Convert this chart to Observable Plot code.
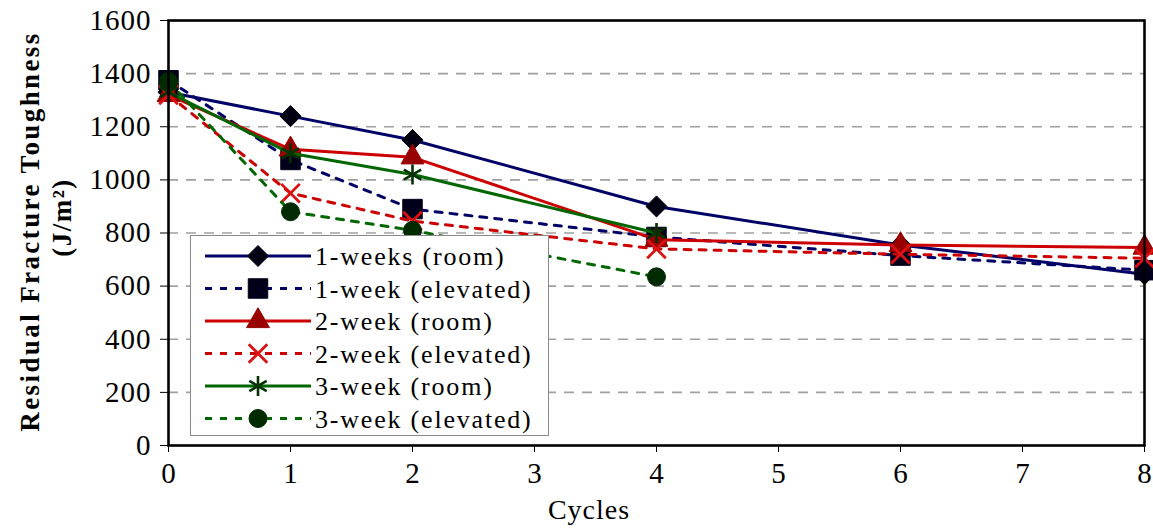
<!DOCTYPE html>
<html>
<head>
<meta charset="utf-8">
<script src="https://cdn.jsdelivr.net/npm/d3@7"></script>
<script src="https://cdn.jsdelivr.net/npm/@observablehq/plot@0.6"></script>
<style>
  html, body { margin: 0; padding: 0; background: #fff; }
  #wrap { position: relative; width: 1153px; height: 528px; font-family: "Liberation Serif", "Times New Roman", serif; color: #000; }
  #wrap svg { position: absolute; left: 0; top: 0; }
  .ylab { position: absolute; white-space: nowrap; text-align: center; transform-origin: center center; transform: rotate(-90deg); }
  .xlab { position: absolute; white-space: nowrap; }
  #legend { position: absolute; background: #fff; border: 1.5px solid #8a8a8a; box-sizing: border-box; }
</style>
</head>
<body>
<div id="wrap"></div>
<script>
// ---------- data ----------
const cycles = [0, 1, 2, 4, 6, 8];
const cycles3 = [0, 1, 2, 4];
const room1 = [1330, 1240, 1150, 900, 755, 645];
const elev1 = [1375, 1075, 890, 785, 715, 660];
const room2 = [1320, 1115, 1085, 775, 755, 745];
const elev2 = [1320, 950, 845, 740, 720, 705];
const room3 = [1330, 1100, 1020, 800];
const elev3 = [1370, 880, 810, 635];
const seriesNames = ["1-weeks (room)", "1-week (elevated)", "2-week (room)", "2-week (elevated)", "3-week (room)", "3-week (elevated)"];
const xTicks = [0, 1, 2, 3, 4, 5, 6, 7, 8];
const yTicks = [0, 200, 400, 600, 800, 1000, 1200, 1400, 1600];
const yGridTicks = [200, 400, 600, 800, 1000, 1200, 1400];
const xTitle = "Cycles";
const yTitle1 = "Residual Fracture Toughness";
const yTitle2 = "(J/m²)";

// ---------- styles ----------
const styles = [
  {x: cycles,  y: room1, line: "#000066", dash: null,  symbol: "diamond2", fill: "#000010", stroke: "#000010", r: 9.5, sw: 1},
  {x: cycles,  y: elev1, line: "#000066", dash: "7,8", symbol: "square",   fill: "#00001a", stroke: "#00001a", r: 11, sw: 1},
  {x: cycles,  y: room2, line: "#cc0000", dash: null,  symbol: "triangle", fill: "#990000", stroke: "#990000", r: 8.5, sw: 1},
  {x: cycles,  y: elev2, line: "#cc0000", dash: "7,8", symbol: "times",    fill: "none",    stroke: "#dd1111", r: 8.5, sw: 2.8},
  {x: cycles3, y: room3, line: "#006600", dash: null,  symbol: "asterisk", fill: "none",    stroke: "#003300", r: 9.5, sw: 2.6},
  {x: cycles3, y: elev3, line: "#006600", dash: "7,8", symbol: "circle",   fill: "#002b00", stroke: "#002b00", r: 9,  sw: 1}
];

const series = styles.map((s, i) => ({
  ...s,
  name: seriesNames[i],
  data: s.x.map((c, j) => ({cycle: c, value: s.y[j]}))
}));

const marks = [
  Plot.gridY(yGridTicks, {stroke: "#a0a0a0", strokeOpacity: 1, strokeWidth: 1.6, strokeDasharray: "10,8"}),
  Plot.axisX({ticks: xTicks, tickSize: 7, tickPadding: 10, tickFormat: d => String(d), label: null, fontSize: 29, stroke: "#000", strokeWidth: 1}),
  Plot.axisY({ticks: yTicks, tickSize: 8, tickPadding: 9, tickFormat: d => String(d), label: null, fontSize: 29, stroke: "#000", strokeWidth: 1})
];
for (const s of series) {
  marks.push(Plot.line(s.data, {x: "cycle", y: "value", stroke: s.line, strokeWidth: 3, strokeDasharray: s.dash || undefined}));
  marks.push(Plot.dot(s.data, {x: "cycle", y: "value", symbol: s.symbol, r: s.r, fill: s.fill, stroke: s.stroke, strokeWidth: s.sw}));
}
marks.push(Plot.frame({stroke: "#000", strokeWidth: 2.6}));

const chart = Plot.plot({
  width: 1153,
  height: 528,
  marginLeft: 168,
  marginRight: 9,
  marginTop: 20,
  marginBottom: 83,
  style: {fontFamily: "'Liberation Serif', 'Times New Roman', serif", fontSize: "29px", color: "#000", background: "#fff", overflow: "visible"},
  x: {domain: [0, 8], label: null},
  y: {domain: [0, 1600], label: null},
  marks
});

const wrap = document.getElementById("wrap");
wrap.appendChild(chart);
d3.select(chart).selectAll("[aria-label='y-axis tick label'] text").attr("letter-spacing", 1);

// ---------- axis titles ----------
function ylab(text, cx, cy, size, weight, spacing) {
  const d = document.createElement("div");
  d.className = "ylab";
  d.textContent = text;
  d.style.fontSize = size + "px";
  d.style.fontWeight = weight;
  d.style.letterSpacing = spacing + "px";
  d.style.lineHeight = "1";
  const w = 500;
  d.style.width = w + "px";
  d.style.left = (cx - w / 2) + "px";
  d.style.top = (cy - size / 2) + "px";
  wrap.appendChild(d);
}
ylab(yTitle1, 30, 231, 27, "bold", 2.4);
ylab(yTitle2, 62, 217, 27, "bold", 1.5);

const xl = document.createElement("div");
xl.className = "xlab";
xl.textContent = xTitle;
xl.style.fontSize = "28px";
xl.style.letterSpacing = "1px";
xl.style.left = "0px";
xl.style.width = "1178px";
xl.style.textAlign = "center";
xl.style.top = "494px";
wrap.appendChild(xl);

// ---------- legend ----------
const legend = document.createElement("div");
legend.id = "legend";
legend.style.left = "190px";
legend.style.top = "235px";
legend.style.width = "359px";
legend.style.height = "201px";
wrap.appendChild(legend);

const lsvg = d3.select(legend).append("svg")
  .attr("width", 356).attr("height", 198)
  .style("position", "absolute").style("left", "0px").style("top", "0px");
const symMap = {diamond2: d3.symbolDiamond2, square: d3.symbolSquare, triangle: d3.symbolTriangle, times: d3.symbolTimes, asterisk: d3.symbolAsterisk, circle: d3.symbolCircle};
series.forEach((s, i) => {
  const cy = 20 + i * 32.5;
  const g = lsvg.append("g");
  g.append("line").attr("x1", 14).attr("x2", 120).attr("y1", cy).attr("y2", cy)
    .attr("stroke", s.line).attr("stroke-width", 3).attr("stroke-dasharray", s.dash);
  g.append("path").attr("transform", `translate(67,${cy})`)
    .attr("d", d3.symbol(symMap[s.symbol], Math.PI * s.r * s.r)())
    .attr("fill", s.fill).attr("stroke", s.stroke).attr("stroke-width", s.sw);
  g.append("text").attr("x", 124).attr("y", cy).attr("dy", "0.35em")
    .attr("font-family", "'Liberation Serif', 'Times New Roman', serif").attr("font-size", 26)
    .attr("letter-spacing", 1.8).attr("fill", "#000").text(s.name);
});
</script>
</body>
</html>
